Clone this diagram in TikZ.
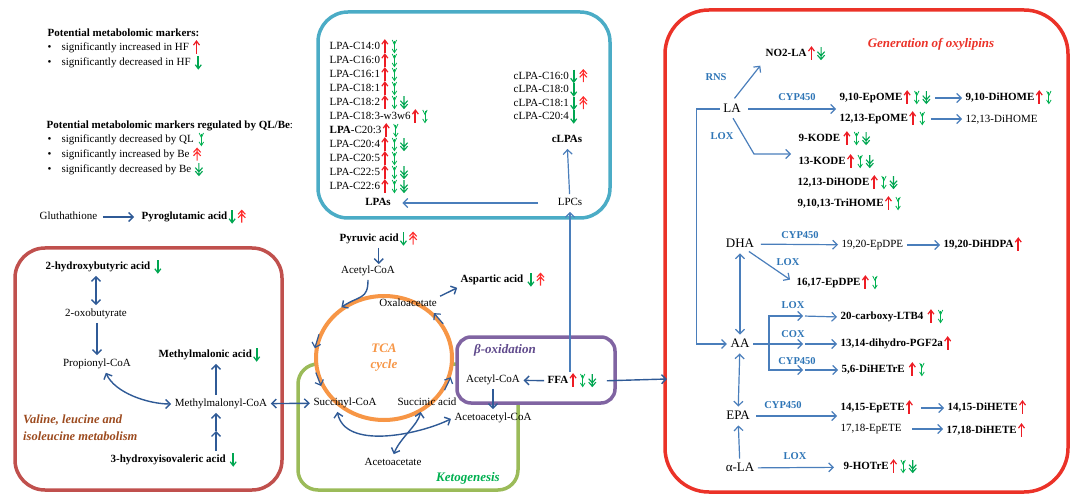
\documentclass[tikz,border=0pt]{standalone}
\usepackage{fontspec}
\setmainfont{Liberation Serif}
\usetikzlibrary{arrows.meta,shapes.geometric}

\definecolor{lpacol}{RGB}{75,172,198}
\definecolor{tcaorange}{RGB}{247,150,70}
\definecolor{ketocol}{RGB}{155,187,89}
\definecolor{ketotext}{RGB}{0,176,80}
\definecolor{betacol}{RGB}{128,100,162}
\definecolor{betatext}{RGB}{96,74,140}
\definecolor{valcol}{RGB}{192,80,77}
\definecolor{valtext}{RGB}{156,74,30}
\definecolor{oxyred}{RGB}{235,50,40}
\definecolor{enzblue}{RGB}{46,117,182}
\definecolor{arrdark}{RGB}{47,90,150}
\definecolor{arrlight}{RGB}{74,126,187}
\definecolor{mkred}{RGB}{237,28,36}
\definecolor{mkgreen}{RGB}{0,166,81}
\definecolor{qlgreen}{RGB}{0,176,80}
\definecolor{bered}{RGB}{255,45,45}

% marker glyphs
\newcommand{\incr}{\tikz[baseline=0pt,x=1pt,y=1pt]{\path (-4.8,0) (4.8,0);
  \draw[mkred,line width=1.9pt] (0,-3) -- (0,8.4);
  \draw[mkred,line width=1.2pt] (-3,5.6) -- (0,9.6) -- (3,5.6);}}
\newcommand{\decr}{\tikz[baseline=0pt,x=1pt,y=1pt]{\path (-4.8,0) (4.8,0);
  \draw[mkgreen,line width=1.9pt] (0,9.6) -- (0,-1.8);
  \draw[mkgreen,line width=1.2pt] (-3,1) -- (0,-3) -- (3,1);}}
\newcommand{\qldec}{\tikz[baseline=0pt,x=1pt,y=1pt]{\path (-4.8,0) (4.8,0);
  \draw[qlgreen,line width=.9pt] (0,9.2) -- (0,-2.5);
  \draw[qlgreen,line width=.8pt] (-2.3,0.8) -- (0,-2.8) -- (2.3,0.8) (-2.2,9.8) -- (0,5.2) -- (2.2,9.8);}}
\newcommand{\beinc}{\tikz[baseline=0pt,x=1pt,y=1pt]{\path (-4.8,0) (4.8,0);
  \draw[bered,line width=1.1pt] (0,-2.8) -- (0,9) (-3.6,5.4) -- (0,9.4) -- (3.6,5.4)
    (-3.6,1.9) -- (0,5.9) -- (3.6,1.9);}}
\newcommand{\bedec}{\tikz[baseline=0pt,x=1pt,y=1pt]{\path (-4.8,0) (4.8,0);
  \draw[mkgreen,line width=1.1pt] (0,9.6) -- (0,-2.2) (-3.6,1.6) -- (0,-2.6) -- (3.6,1.6)
    (-3.6,5.1) -- (0,0.9) -- (3.6,5.1);}}

\begin{document}
\begin{tikzpicture}[x=1pt,y=-1pt,
    >={Straight Barb[length=4.5pt,width=9pt]},
    txt/.style={font=\fontsize{11}{13}\selectfont,inner sep=1.5pt,text height=8pt,text depth=2.5pt},
    bold/.style={txt,font=\fontsize{11}{13}\selectfont\bfseries},
    big/.style={txt,font=\fontsize{13}{15}\selectfont,text height=9pt},
    enz/.style={font=\fontsize{10.5}{12}\selectfont\bfseries,text=enzblue,inner sep=0pt},
    boxtitle/.style={font=\fontsize{13}{15}\selectfont\bfseries\itshape,inner sep=0pt},
    pathway/.style={line width=3.5pt,rounded corners=#1},
    arr/.style={draw=arrdark,line width=1.4pt,->,shorten >=2pt,shorten <=2pt},
    arrl/.style={draw=arrlight,line width=1.2pt,->,shorten >=2pt,shorten <=2pt},
    cyc/.style={draw=arrdark,line width=1.2pt,->}
  ]
  \useasboundingbox (0,0) rectangle (1073,494);

  % pathway boxes
  \draw[pathway=30,draw=lpacol] (318,12) rectangle (610,218);
  \draw[pathway=30,draw=valcol] (15,248) rectangle (282,490);
  \draw[pathway=20,draw=ketocol] (298,364) rectangle (518,490);
  \draw[pathway=44,draw=oxyred] (665,10) rectangle (1068,492);
  \node[ellipse,draw=tcaorange,line width=4pt,fill=white,minimum width=136pt,minimum height=124pt,
    inner sep=0pt,align=center,text=tcaorange,font=\fontsize{13}{16}\selectfont\bfseries\itshape]
    (tca) at (384,358) {TCA\\cycle};
  \draw[pathway=14,draw=betacol,fill=white] (457,337) rectangle (615,403);

  % legend
  \node[bold,anchor=west] (leg1) at (46,34) {Potential metabolomic markers:};
  \node[txt,anchor=west] (hfup) at (46,48) {\textbullet\hspace{10pt}significantly increased in HF \incr};
  \node[txt,anchor=west] (hfdn) at (46,63) {\textbullet\hspace{10pt}significantly decreased in HF \decr};
  \node[txt,anchor=west] (leg2) at (45,126) {\textbf{Potential metabolomic markers regulated by QL/Be}:};
  \node[txt,anchor=west] (qldn) at (46,140) {\textbullet\hspace{10pt}significantly decreased by QL \qldec};
  \node[txt,anchor=west] (beup) at (46,155) {\textbullet\hspace{10pt}significantly increased by Be \beinc};
  \node[txt,anchor=west] (bedn) at (46,170) {\textbullet\hspace{10pt}significantly decreased by Be \bedec};
  \node[txt,anchor=west] (glu) at (38,217) {Gluthathione};
  \node[bold,anchor=west] (pyro) at (140,217) {Pyroglutamic acid\decr\beinc};

  % lysophospholipids
  \foreach \lbl/\mk [count=\i] in {LPA-C14:0/\incr\qldec, LPA-C16:0/\incr\qldec,
      LPA-C16:1/\incr\qldec, LPA-C18:1/\incr\qldec, LPA-C18:2/\incr\qldec\bedec,
      LPA-C18:3-w3w6/\incr\qldec, {\textbf{LPA}-C20:3}/\incr\qldec,
      LPA-C20:4/\incr\qldec\bedec, LPA-C20:5/\incr\qldec, LPA-C22:5/\incr\qldec\bedec,
      LPA-C22:6/\incr\qldec\bedec}
    \node[txt,anchor=west] (lpa\i) at (328,33+14*\i) {\lbl\mk};
  \foreach \lbl/\mk [count=\i] in {cLPA-C16:0/\decr\beinc, cLPA-C18:0/\decr,
      cLPA-C18:1/\decr\beinc, cLPA-C20:4/\decr}
    \node[txt,anchor=west] (clpa\i) at (512,63+13.5*\i) {\lbl\mk};
  \node[bold] (lpas) at (378,203) {LPAs};
  \node[txt] (lpc) at (570,203) {LPCs};
  \node[bold] (clpas) at (567,140) {cLPAs};

  % valine, leucine and isoleucine
  \node[bold,anchor=west] (hb) at (44,267) {2-hydroxybutyric acid \decr};
  \node[txt] (oxo) at (96,314) {2-oxobutyrate};
  \node[txt] (prop) at (97,364) {Propionyl-CoA};
  \node[bold,anchor=west] (mma) at (157,355) {Methylmalonic acid\decr};
  \node[txt] (mmcoa) at (221,404) {Methylmalonyl-CoA};
  \node[bold,anchor=west] (hiv) at (109,460) {3-hydroxyisovaleric acid \decr};
  \node[boxtitle,text=valtext,align=left,anchor=north west,font=\fontsize{12.5}{17}\selectfont\bfseries\itshape]
    (valtitle) at (23,415) {Valine, leucine and\\isoleucine metabolism};
  \coordinate (hivmid) at (216,431);

  % TCA cycle, ketogenesis, beta-oxidation
  \node[bold,anchor=west] (pyr) at (338,239) {Pyruvic acid\decr\beinc};
  \node[txt] (acoa1) at (368,271) {Acetyl-CoA};
  \node[txt] (oxa) at (408,304) {Oxaloacetate};
  \node[bold,anchor=west] (asp) at (459,280) {Aspartic acid \decr\beinc};
  \node[txt] (succoa) at (345,403) {Succinyl-CoA};
  \node[txt] (sucac) at (427,403) {Succinic acid};
  \node[txt] (acac) at (393,463) {Acetoacetate};
  \node[txt] (acoa2) at (493,380) {Acetyl-CoA};
  \node[txt] (acacoa) at (493,418) {Acetoacetyl-CoA};
  \node[bold,anchor=west] (ffa) at (546,381) {FFA\incr\qldec\bedec};
  \node[boxtitle,text=betatext] (betatitle) at (505,350) {β-oxidation};
  \node[boxtitle,text=ketotext] (ketotitle) at (468,478) {Ketogenesis};

  % oxylipins
  \node[boxtitle,text=oxyred] (oxytitle) at (931,44) {Generation of oxylipins};
  \coordinate (oxyin) at (667,379);
  \node[big] (la) at (732,109) {LA};
  \node[big] (dha) at (740,244) {DHA};
  \node[big] (aa) at (740,344) {AA};
  \node[big] (epa) at (738,416) {EPA};
  \node[big] (ala) at (740,468) {α-LA};
  \node[bold,anchor=west] (nola) at (764,54) {NO2-LA\incr\bedec};
  \node[bold,anchor=west] (epome910) at (838,98) {9,10-EpOME\incr\qldec\bedec};
  \node[bold,anchor=west] (epome1213) at (838,119) {12,13-EpOME\incr\qldec};
  \node[bold,anchor=west] (dihome910) at (964,98) {9,10-DiHOME\incr\qldec};
  \node[txt,anchor=west] (dihome1213) at (964,120) {12,13-DiHOME};
  \node[bold,anchor=west] (kode9) at (797,139) {9-KODE\,\incr\qldec\bedec};
  \node[bold,anchor=west] (kode13) at (797,162) {13-KODE\incr\qldec\bedec};
  \node[bold,anchor=west] (dihode) at (796,183) {12,13-DiHODE\incr\qldec\bedec};
  \node[bold,anchor=west] (trihome) at (796,204) {9,10,13-TriHOME\incr\qldec};
  \node[txt,anchor=west] (epdpe1920) at (840,245) {19,20-EpDPE};
  \node[bold,anchor=west] (dihdpa) at (942,245) {19,20-DiHDPA\incr};
  \node[bold,anchor=west] (epdpe1617) at (795,283) {16,17-EpDPE\incr\qldec};
  \node[bold,anchor=west] (ltb4) at (839,317) {20-carboxy-LTB4 \incr\qldec};
  \node[bold,anchor=west] (pgf) at (839,344) {13,14-dihydro-PGF2a\incr};
  \node[bold,anchor=west] (dihetre) at (840,370) {5,6-DiHETrE \incr\qldec};
  \node[bold,anchor=west] (epete1415) at (839,408) {14,15-EpETE\incr};
  \node[txt,anchor=west] (epete1718) at (839,429) {17,18-EpETE};
  \node[bold,anchor=west] (dihete1415) at (946,408) {14,15-DiHETE\incr};
  \node[bold,anchor=west] (dihete1718) at (945,431) {17,18-DiHETE\incr};
  \node[bold,anchor=west] (hotre) at (842,467) {9-HOTrE\incr\qldec\bedec};
  \node[enz] (rns) at (716,77) {RNS};
  \node[enz] (cypla) at (797,97) {CYP450};
  \node[enz] (loxla) at (722,136) {LOX};
  \node[enz] (cypdha) at (800,235) {CYP450};
  \node[enz] (loxdha) at (788,262) {LOX};
  \node[enz] (loxaa) at (793,305) {LOX};
  \node[enz] (coxaa) at (793,334) {COX};
  \node[enz] (cypaa) at (797,361) {CYP450};
  \node[enz] (cypepa) at (783,405) {CYP450};
  \node[enz] (loxala) at (795,456) {LOX};
  \coordinate (loxbend) at (754,154);
  \coordinate (aafork) at (769,344);
  \coordinate (loxtip) at (803,316);
  \coordinate (coxtip) at (803,344);
  \coordinate (cyptip) at (803,370);

  % connectors: legend and lipids
  \draw[arr,shorten <=4pt,shorten >=6pt] (glu) -- (pyro);
  \draw[arrl,shorten <=18pt,shorten >=10pt] (lpc) -- (lpas);
  \draw[arrl] (lpc) -- (clpas);
  \draw[arrl] (ffa.north -| lpc.south) -- (lpc.south);

  % connectors: valine box
  \draw[arr,<->] (oxo.north |- hb.south) -- (oxo.north);
  \draw[arr] (prop.north |- oxo.south) -- (prop.north);
  \draw[arr,<->] ([xshift=8pt]prop.south) .. controls +(10,22) and +(-25,0) .. (mmcoa.west);
  \draw[arr] ([xshift=-5pt]mmcoa.north) -- ([xshift=-5pt]mmcoa.north |- mma.south);
  \draw[arr,shorten >=0pt] (hivmid |- hiv.north) -- (hivmid);
  \draw[arr,shorten <=0pt] (hivmid) -- (hivmid |- mmcoa.south);
  \draw[arr,<->] (mmcoa) -- (succoa);

  % connectors: TCA cycle
  \draw[arr,shorten >=0pt] (pyr.south) -- (pyr.south |- acoa1.north);
  \draw[arr,shorten >=0pt] (acoa1.south) .. controls +(0,22) and +(18,-12) .. (tca.130);
  \draw[cyc] (tca.160) -- (tca.172);
  \draw[cyc] (tca.192) -- (tca.204);
  \draw[cyc] (tca.-28) -- (tca.-16);
  \draw[cyc] (tca.30) -- (tca.42);
  \draw[arr] (oxa.north east) -- (asp.south west);
  \draw[arr,<->] ([xshift=-8pt]succoa.south) .. controls +(8,40) and +(-35,17) .. (acacoa.west);
  \draw[arr,<->] ([xshift=-6pt]sucac.south) .. controls +(-3,15) and +(7,-18) .. (acac.north);
  \draw[arr] (acoa2) -- (acacoa);
  \draw[arr] (ffa) -- (acoa2);
  \draw[arr,shorten <=8pt,shorten >=0pt] (ffa.east) -- (oxyin);

  % connectors: oxylipins
  \draw[arrl,shorten <=4pt,shorten >=6pt] (la.north) -- (nola.south west);
  \draw[arrl,shorten <=6pt] (la.east) -- (la.east -| epome910.west);
  \draw[arrl,shorten >=6pt] (la.south) -- (loxbend) -- (loxbend -| kode13.west);
  \draw[arrl] (epome910) -- (dihome910);
  \draw[arrl] (epome1213.east) -- (epome1213.east -| dihome1213.west);
  \draw[arrl] (la.west) -- ([xshift=-25pt]la.west) |- (aa.west);
  \draw[arrl,shorten <=5pt] (dha) -- (epdpe1920);
  \draw[arrl] (epdpe1920) -- (dihdpa);
  \draw[arrl,shorten <=0pt,shorten >=6pt] (dha.-40) -- (epdpe1617.west);
  \draw[arrl,<->] (dha) -- (aa);
  \draw[arrl,<->] (aa) -- (epa);
  \draw[arrl] (ala) -- (epa);
  \draw[arrl,shorten >=0pt] (aa.east) -- (coxtip);
  \draw[arrl,shorten <=0pt,shorten >=0pt] (aafork |- cyptip) -- (aafork |- loxtip) -- (loxtip);
  \draw[arrl,shorten <=0pt,shorten >=0pt] (aafork) -- (aafork |- cyptip) -- (cyptip);
  \draw[arrl] (loxtip) -- (ltb4.west);
  \draw[arrl] (coxtip) -- (pgf.west);
  \draw[arrl] (cyptip) -- (dihetre.west);
  \draw[arrl,shorten <=5pt] (epa.east) -- (epa.east -| epete1415.west);
  \draw[arrl,shorten <=5pt] (epete1415) -- (dihete1415);
  \draw[arrl,shorten <=9pt] (epete1718.east) -- (epete1718.east -| dihete1718.west);
  \draw[arrl,shorten >=8pt] (ala) -- (hotre);
\end{tikzpicture}
\end{document}
